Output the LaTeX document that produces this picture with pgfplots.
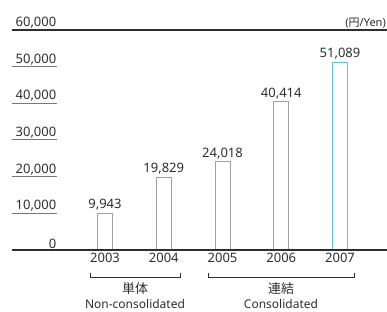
\documentclass[border=0pt]{standalone}
\usepackage{pgfplots}
\pgfplotsset{compat=1.18}
\usepackage{fontspec}
\setmainfont{Noto Sans}
\newfontfamily\cjk{Noto Sans CJK JP}
\definecolor{txt}{HTML}{2E2E2E}
\definecolor{barg}{HTML}{A0A0A0}
\definecolor{barc}{HTML}{5BC8D8}
\definecolor{ul}{HTML}{777777}
\begin{document}
\begin{tikzpicture}[x=1pt,y=1pt]
\useasboundingbox (0,0) rectangle (387,312);
\begin{axis}[
  at={(12pt,62pt)}, anchor=south west,
  scale only axis, width=375pt, height=220pt,
  xmin=-1.583, xmax=4.8, ymin=0, ymax=60000,
  axis line style={draw=none},
  clip=false,
  xtick={0,1,2,3,4},
  xticklabels={2003,2004,2005,2006,2007},
  ytick={0,10000,20000,30000,40000,50000,60000},
  major tick length=0pt,
  /pgf/number format/.cd, 1000 sep={,}, assume math mode=true,
  /pgfplots/.cd,
  scaled y ticks=false,
  tick label style={font=\fontsize{13}{15}\selectfont, text=txt},
  yticklabel style={anchor=south east, xshift=46pt, inner sep=1.5pt},
  xticklabel style={inner sep=3pt},
  ybar, bar width=15pt, bar shift=0pt,
  nodes near coords,
  nodes near coords style={font=\fontsize{13}{15}\selectfont, text=txt, inner sep=2.5pt,
     /pgf/number format/1000 sep={,}, /pgf/number format/assume math mode=true},
]
\addplot[draw=barg, fill=white, line width=1pt] coordinates {(0,9943) (1,19829) (2,24018) (3,40414)};
\addplot[draw=barc, fill=white, line width=1pt] coordinates {(4,51089)};
\draw[txt, line width=1.1pt] (rel axis cs:0,0) -- (rel axis cs:1,0);
\draw[txt, line width=1.1pt] (rel axis cs:0,1) -- (rel axis cs:1,1);
\draw[ul, line width=1pt] (axis cs:-1.583,10000) -- (axis cs:-0.817,10000);
\draw[ul, line width=1pt] (axis cs:-1.583,20000) -- (axis cs:-0.817,20000);
\draw[ul, line width=1pt] (axis cs:-1.583,30000) -- (axis cs:-0.817,30000);
\draw[ul, line width=1pt] (axis cs:-1.583,40000) -- (axis cs:-0.817,40000);
\draw[ul, line width=1pt] (axis cs:-1.583,50000) -- (axis cs:-0.817,50000);
\end{axis}
\node[anchor=south east, inner sep=0pt, text=txt, font=\fontsize{11}{13}\selectfont] at (386,284) {(\cjk 円\normalfont/Yen)};
\draw[txt, line width=0.8pt] (90,39) -- (90,35) -- (180,35) -- (180,39);
\draw[txt, line width=0.8pt] (208,39) -- (208,35) -- (354,35) -- (354,39);
\node[text=txt, font=\fontsize{13}{15}\selectfont\cjk] at (135,23.5) {単体};
\node[text=txt, font=\fontsize{12}{14}\selectfont, anchor=south, inner sep=0pt] at (135,3) {Non-consolidated};
\node[text=txt, font=\fontsize{13}{15}\selectfont\cjk] at (281,23.5) {連結};
\node[text=txt, font=\fontsize{12}{14}\selectfont, anchor=south, inner sep=0pt] at (281,3) {Consolidated};
\end{tikzpicture}
\end{document}
